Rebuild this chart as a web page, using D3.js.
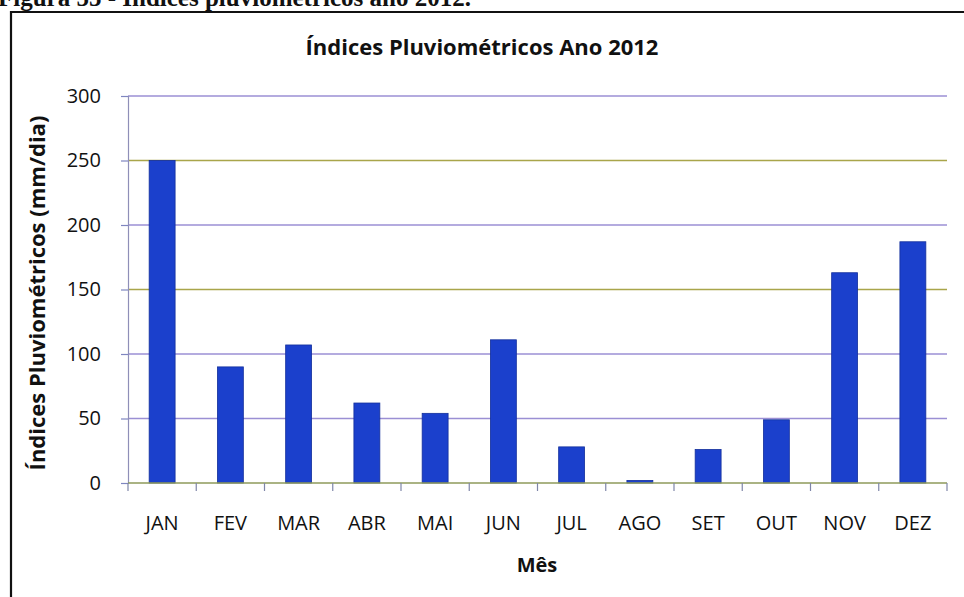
<!DOCTYPE html>
<html>
<head>
<meta charset="utf-8">
<script src="https://cdn.jsdelivr.net/npm/d3@7"></script>
<style>
  html, body { margin: 0; padding: 0; background: #fff; }
  svg { display: block; }
</style>
</head>
<body>
<svg id="chart" width="964" height="597"></svg>
<script>
// Monthly rainfall indices, 2012
const months = ["JAN", "FEV", "MAR", "ABR", "MAI", "JUN", "JUL", "AGO", "SET", "OUT", "NOV", "DEZ"];
const rainfall = [250, 90, 107, 62, 54, 111, 28, 2, 26, 49, 163, 187];
const yTicks = [0, 50, 100, 150, 200, 250, 300];

const chartTitle = "Índices Pluviométricos Ano 2012";
const yTitle = "Índices Pluviométricos (mm/dia)";
const xTitle = "Mês";
const caption = "Figura 55 - Índices pluviométricos ano 2012.";

const svg = d3.select("#chart");
const font = "'Open Sans', Lato, sans-serif";

const plot = { left: 128, right: 947, top: 96, bottom: 483 };

const x = d3.scaleBand().domain(months).range([plot.left, plot.right]).paddingInner(0.62).paddingOuter(0.31);
const xEdges = d3.scaleBand().domain(months).range([plot.left, plot.right]);
const y = d3.scaleLinear().domain([0, 300]).range([plot.bottom, plot.top]);

// Caption above the frame (partly cut by the page edge)
svg.append("text")
  .attr("x", -2).attr("y", 6)
  .attr("font-family", "'Liberation Serif', serif")
  .attr("font-weight", "bold")
  .attr("font-size", 25)
  .attr("fill", "#111")
  .text(caption);

// Chart frame
svg.append("path")
  .attr("d", `M11,597 L11,12 L970,12`)
  .attr("fill", "none")
  .attr("stroke", "#111")
  .attr("stroke-width", 2.2);

// Horizontal gridlines
const gridColour = { 250: "#a9a54a", 150: "#a9a54a" };
svg.append("g")
  .selectAll("line")
  .data(yTicks.filter(d => d > 0))
  .join("line")
  .attr("x1", plot.left).attr("x2", plot.right)
  .attr("y1", d => y(d)).attr("y2", d => y(d))
  .attr("stroke", d => gridColour[d] || "#9b8fd4")
  .attr("stroke-width", 1.3);

// Bars
svg.append("g")
  .selectAll("rect")
  .data(rainfall)
  .join("rect")
  .attr("x", (d, i) => x(months[i]))
  .attr("width", x.bandwidth())
  .attr("y", d => y(d))
  .attr("height", d => y(0) - y(d))
  .attr("fill", "#1b40cc")
  .attr("stroke", "#14309c")
  .attr("stroke-width", 0.8);

// Y axis
const yAxis = d3.axisLeft(y).tickValues(yTicks).tickSize(7).tickPadding(20);
const gy = svg.append("g").attr("transform", `translate(${plot.left},0)`).call(yAxis);
gy.select(".domain").attr("stroke", "#8f8fb8").attr("stroke-width", 1.2);
gy.selectAll(".tick line").attr("stroke", "#7f86c0").attr("stroke-width", 1.2);
gy.selectAll(".tick text")
  .attr("font-family", font).attr("font-size", 20).attr("fill", "#111");

// X axis with ticks on category boundaries
const gx = svg.append("g").attr("transform", `translate(0,${plot.bottom})`);
gx.append("line")
  .attr("x1", plot.left).attr("x2", plot.right)
  .attr("stroke", "#8e9a5a").attr("stroke-width", 1.3);
gx.selectAll("line.tk")
  .data(months.concat(["end"]))
  .join("line")
  .attr("class", "tk")
  .attr("x1", (d, i) => i < months.length ? xEdges(d) : plot.right)
  .attr("x2", (d, i) => i < months.length ? xEdges(d) : plot.right)
  .attr("y1", 0).attr("y2", 8)
  .attr("stroke", "#7f86a8").attr("stroke-width", 1.2);
gx.selectAll("text")
  .data(months)
  .join("text")
  .attr("x", d => xEdges(d) + xEdges.bandwidth() / 2)
  .attr("y", 47)
  .attr("text-anchor", "middle")
  .attr("font-family", font).attr("font-size", 20).attr("fill", "#111")
  .text(d => d);

// Titles
svg.append("text")
  .attr("x", 482).attr("y", 55)
  .attr("text-anchor", "middle")
  .attr("font-family", font).attr("font-weight", "bold").attr("font-size", 22)
  .attr("fill", "#111")
  .text(chartTitle);

svg.append("text")
  .attr("x", 537).attr("y", 572)
  .attr("text-anchor", "middle")
  .attr("font-family", font).attr("font-weight", "bold").attr("font-size", 20)
  .attr("fill", "#111")
  .text(xTitle);

svg.append("text")
  .attr("transform", `translate(45,293) rotate(-90)`)
  .attr("text-anchor", "middle")
  .attr("font-family", font).attr("font-weight", "bold").attr("font-size", 22)
  .attr("fill", "#111")
  .text(yTitle);
</script>
</body>
</html>
